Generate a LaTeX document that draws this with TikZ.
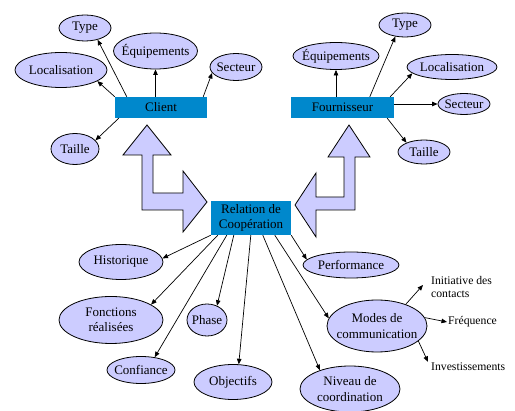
\documentclass[tikz,border=0pt]{standalone}
\usepackage{fontspec}
\setmainfont{Liberation Serif}
\usetikzlibrary{shapes.geometric,arrows.meta}
\definecolor{boxblue}{RGB}{0,136,204}
\definecolor{lav}{RGB}{204,204,255}
\begin{document}
\begin{tikzpicture}[x=1pt,y=-1pt,
  ell/.style={ellipse,draw=black,fill=lav,line width=0.8pt,inner sep=0pt},
  bx/.style={rectangle,fill=boxblue,inner sep=0pt,font=\fontsize{13}{15.5}\selectfont,align=center},
  lbl/.style={font=\fontsize{13}{15.5}\selectfont,align=center,inner sep=0pt},
  sm/.style={font=\fontsize{11.7}{13.5}\selectfont,align=left,inner sep=1pt},
  arr/.style={-{Stealth[length=5.5pt,width=4.5pt,inset=0pt]},line width=0.7pt},
  blk/.style={draw=black,fill=lav,line width=0.8pt,line join=miter}]
\useasboundingbox (0,0) rectangle (515,411);

% block arrows
\draw[blk] (147,125) -- (171,155) -- (153,155) -- (153,193) -- (183,193) -- (183,171) -- (207,202) -- (183,232) -- (183,210) -- (142,210) -- (142,155) -- (123,155) -- cycle;
\draw[blk] (349,125) -- (370,157) -- (355,157) -- (355,210) -- (316,210) -- (316,237) -- (295,205) -- (316,173) -- (316,197) -- (344,197) -- (344,157) -- (328,157) -- cycle;

% boxes
\node[bx,minimum width=92pt,minimum height=21pt] (client) at (161,107.5) {Client};
\node[bx,minimum width=103pt,minimum height=21pt] (fourn) at (342.5,107.5) {Fournisseur};
\node[bx,minimum width=80pt,minimum height=34pt] (rel) at (251,218) {Relation de\\Coopération};

% client ellipses
\node[ell,minimum width=52pt,minimum height=26pt] (ctype) at (85,28) {};
\node[lbl] at (ctype) {Type};
\node[ell,minimum width=84pt,minimum height=36pt] (cequip) at (155.5,51) {};
\node[lbl] at (cequip) {Équipements};
\node[ell,minimum width=92pt,minimum height=35pt] (cloc) at (61,70) {};
\node[lbl] at (cloc) {Localisation};
\node[ell,minimum width=52pt,minimum height=27pt] (csect) at (236,67) {};
\node[lbl] at (csect) {Secteur};
\node[ell,minimum width=48pt,minimum height=31pt] (ctaille) at (75,149) {};
\node[lbl] at (ctaille) {Taille};

% fournisseur ellipses
\node[ell,minimum width=52pt,minimum height=24pt] (ftype) at (405,25) {};
\node[lbl] at (ftype) {Type};
\node[ell,minimum width=86pt,minimum height=27pt] (fequip) at (336,56) {};
\node[lbl] at (fequip) {Équipements};
\node[ell,minimum width=90pt,minimum height=25pt] (floc) at (452,67) {};
\node[lbl] at (floc) {Localisation};
\node[ell,minimum width=52pt,minimum height=21pt] (fsect) at (464,104) {};
\node[lbl] at (fsect) {Secteur};
\node[ell,minimum width=52pt,minimum height=24pt] (ftaille) at (424,152) {};
\node[lbl] at (ftaille) {Taille};

% relation ellipses
\node[ell,minimum width=84pt,minimum height=35pt] (hist) at (121,262) {};
\node[lbl] at (hist) {Historique};
\node[ell,minimum width=104pt,minimum height=47pt] (fonc) at (111,320) {};
\node[lbl] at (fonc) {Fonctions\\réalisées};
\node[ell,minimum width=40pt,minimum height=32pt] (phase) at (207,320) {};
\node[lbl] at (phase) {Phase};
\node[ell,minimum width=68pt,minimum height=27pt] (conf) at (141,370) {};
\node[lbl] at (conf) {Confiance};
\node[ell,minimum width=78pt,minimum height=35pt] (obj) at (233,382) {};
\node[lbl] at (obj) {Objectifs};
\node[ell,minimum width=96pt,minimum height=26pt] (perf) at (351,265) {};
\node[lbl] at (perf) {Performance};
\node[ell,minimum width=100pt,minimum height=52pt] (modes) at (377,326) {};
\node[lbl] at (modes) {Modes de\\communication};
\node[ell,minimum width=100pt,minimum height=46pt] (niv) at (350,389) {};
\node[lbl] at (niv) {Niveau de\\coordination};

% small texts
\node[sm,anchor=west] (init) at (430,287) {Initiative des\\contacts};
\node[sm,anchor=west] (freq) at (447,322) {Fréquence};
\node[sm,anchor=west] (inv) at (430,367) {Investissements};

% client connectors
\draw[arr] ([xshift=12pt]client.north west) -- (ctype.-43);
\draw[arr] (client.north west) -- (cloc.-17);
\draw[arr] (client.north -| cequip) -- (cequip.south);
\draw[arr] ([xshift=-4pt]client.north east) -- (csect.194);
\draw[arr] ([xshift=4pt]client.south west) -- (ctaille.23);

% fournisseur connectors
\draw[arr] (fourn.north -| fequip) -- (fequip.south);
\draw[arr] ([xshift=79pt]fourn.north west) -- (ftype.230);
\draw[arr] ([xshift=-4pt]fourn.north east) -- (floc.189);
\draw[arr] (fourn.east |- fsect) -- (fsect.west);
\draw[arr] ([xshift=-7pt]fourn.south east) -- (ftaille.152);

% relation connectors
\draw[arr] (rel.south west) -- (hist.5);
\draw[arr] ([xshift=7pt]rel.south west) -- (fonc.21);
\draw[arr] ([xshift=16pt]rel.south west) -- (conf.43);
\draw[arr] ([xshift=23pt]rel.south west) -- (phase.55);
\draw[arr] ([xshift=40pt]rel.south west) -- (obj.72);
\draw[arr] ([xshift=52pt]rel.south west) -- (niv.148);
\draw[arr] ([xshift=64pt]rel.south west) -- (modes.171);
\draw[arr] (rel.south east) -- (perf.173);

% modes connectors
\draw[arr] (modes.37) -- ([xshift=-7pt,yshift=2pt]init.west);
\draw[arr] (modes.10) -- (freq.west);
\draw[arr] (modes.-20) -- ([xshift=-2pt]inv.north west);
\end{tikzpicture}
\end{document}
